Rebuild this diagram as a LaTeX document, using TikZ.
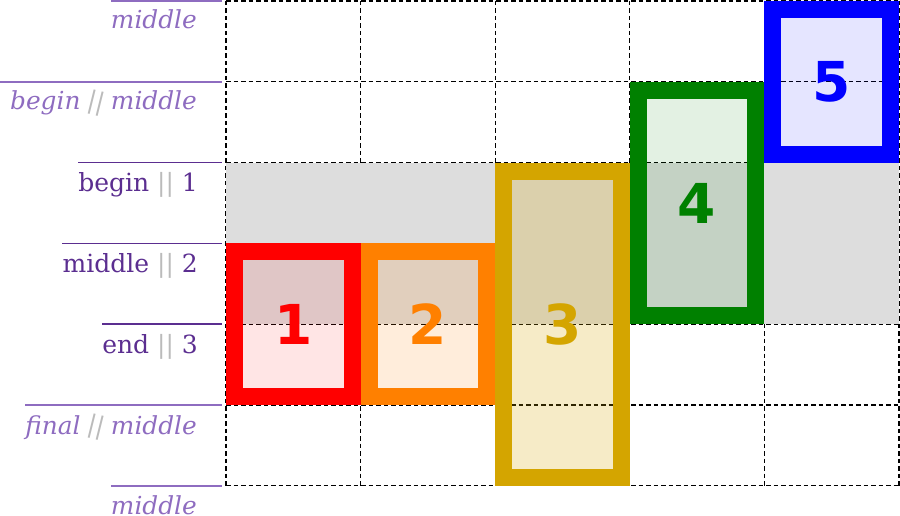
\documentclass[tikz,border=0pt]{standalone}
\usepackage{fontspec}
\setmainfont{DejaVu Serif}
\newfontfamily\numfont{DejaVu Sans}
\definecolor{lblA}{HTML}{8E6CC0}
\definecolor{lblB}{HTML}{5B2E90}
\definecolor{sepgray}{HTML}{BBBBBB}
\definecolor{bandgray}{HTML}{DDDDDD}
\definecolor{cred}{HTML}{FF0000}
\definecolor{corange}{HTML}{FF8000}
\definecolor{cgold}{HTML}{D4A500}
\definecolor{cgreen}{HTML}{008000}
\definecolor{cblue}{HTML}{0000FF}
\newcommand{\upsep}{{\color{sepgray}||}}
\newcommand{\itsep}{{\color{sepgray}\rotatebox[origin=c]{-14}{\upshape||}}}
\begin{document}
\begin{tikzpicture}[x=1pt,y=-1pt,
  gridline/.style={black,line width=1.2pt,dash pattern=on 4.5pt off 3pt},
  lblit/.style={anchor=base east,inner sep=0pt,text=lblA,font=\fontsize{24.8}{24.8}\selectfont\itshape},
  lblup/.style={anchor=base east,inner sep=0pt,text=lblB,font=\fontsize{25}{25}\selectfont},
  ruleit/.style={draw=lblA,line width=1.6pt},
  ruleup/.style={draw=lblB,line width=1.6pt},
  cellbox/.style={draw=#1,fill=#1,draw opacity=1,text opacity=1,text=#1,
    line width=17pt,inner sep=0pt,minimum width=117.6pt,
    font=\fontsize{55}{55}\selectfont\numfont\bfseries}
]
\useasboundingbox (0,0) rectangle (900,516);
% grid
\foreach \i in {0,...,5} \draw[gridline] (226+\i*134.6,1) -- (226+\i*134.6,485.8);
\foreach \j in {0,...,6} \draw[gridline] (226,1+\j*80.8) -- (899,1+\j*80.8);
% band
\fill[bandgray] (226,162.6) rectangle (899,324.2);
% boxes
\node[cellbox=cred,fill opacity=0.1,minimum height=144.6pt] (b1) at (293.3,324.2) {1};
\node[cellbox=corange,fill opacity=0.14,minimum height=144.6pt] (b2) at (427.9,324.2) {2};
\node[cellbox=cgold,fill opacity=0.22,minimum height=306.2pt] (b3) at (562.5,324.2) {3};
\node[cellbox=cgreen,fill opacity=0.11,minimum height=225.4pt] (b4) at (697.1,203) {4};
\node[cellbox=cblue,fill opacity=0.1,minimum height=144.6pt] (b5) at (831.7,81.8) {5};
% labels
\coordinate (r0) at (222,1);
\coordinate (r1) at (222,81.8);
\coordinate (r2) at (222,162.6);
\coordinate (r3) at (222,243.4);
\coordinate (r4) at (222,324.2);
\coordinate (r5) at (222,405);
\coordinate (r6) at (222,485.8);
\node[lblit] (l0) at (197,29) {middle};
\node[lblit] (l1) at (197,110) {begin\,\itsep\,middle};
\node[lblup] (l2) at (198,191.6) {begin \upsep{} 1};
\node[lblup] (l3) at (198,272.4) {middle \upsep{} 2};
\node[lblup] (l4) at (198,353.2) {end \upsep{} 3};
\node[lblit] (l5) at (197,434) {final\,\itsep\,middle};
\node[lblit] (l6) at (197,514.8) {middle};
\draw[ruleit] (l0.west |- r0) -- (r0);
\draw[ruleit] (0,81.8) -- (r1);
\draw[ruleup] (l2.west |- r2) -- (r2);
\draw[ruleup] (l3.west |- r3) -- (r3);
\draw[ruleup] (l4.west |- r4) -- (r4);
\draw[ruleit] (l5.west |- r5) -- (r5);
\draw[ruleit] (l6.west |- r6) -- (r6);
\end{tikzpicture}
\end{document}
